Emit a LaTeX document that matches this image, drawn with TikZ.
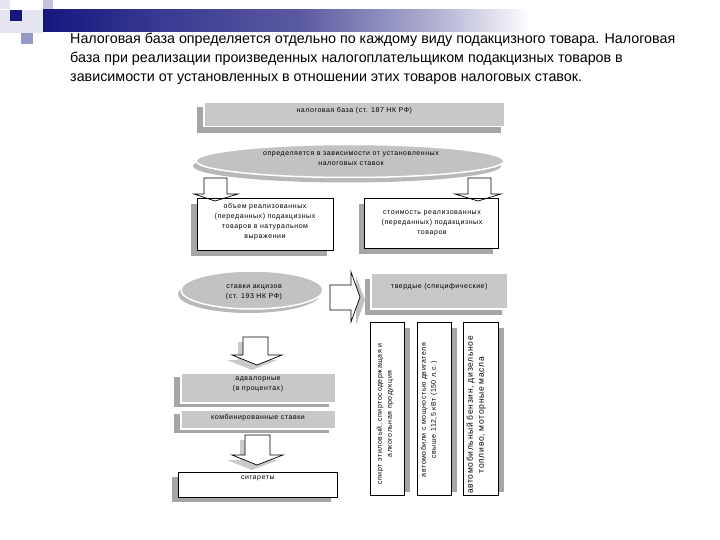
\documentclass[tikz,border=0pt]{standalone}
\usepackage{fontspec}
\setmainfont{Liberation Sans}
\newfontfamily\dfont[LetterSpace=8]{Liberation Sans}
\usetikzlibrary{shapes.geometric}
\definecolor{navy}{HTML}{16167F}
\definecolor{navymid}{HTML}{5A5AA0}
\definecolor{navylight}{HTML}{B4B4D4}
\definecolor{lavA}{HTML}{E6E6F2}
\definecolor{lavB}{HTML}{C4C4E0}
\definecolor{lavC}{HTML}{9898C6}
\definecolor{boxgray}{HTML}{C8C8C8}
\definecolor{shad}{HTML}{A6A6A6}
\definecolor{ellgray}{HTML}{C2C2C2}
\tikzset{
  title/.style={anchor=base west, inner sep=0pt, font=\fontsize{14.3}{17}\selectfont},
  dtext/.style={inner sep=0pt, align=center, font=\dfont\fontsize{7}{10}\selectfont},
  graybox/.style={fill=boxgray, draw=white, line width=1.5pt},
  whitebox/.style={fill=white, draw=black, line width=0.7pt},
  shadowfill/.style={fill=shad},
  blockarrow/.style={draw=black, line width=0.7pt, line join=miter},
}
\begin{document}
\begin{tikzpicture}[x=1pt,y=-1pt]
\useasboundingbox (0,0) rectangle (720,540);
\fill[white] (0,0) rectangle (720,540);
% top-left decoration
\fill[lavA] (0,0) rectangle (10,9);
\fill[lavA] (0,10) rectangle (43,33);
\fill[lavB] (43,0) rectangle (53,12);
\fill[navy] (10,10) rectangle (22,21);
\fill[lavC] (21,33) rectangle (33,44);
% banner
\shade[left color=navy, right color=navy!85!white] (43,10) rectangle (160,32);
\shade[left color=navy!85!white, right color=navymid] (160,10) rectangle (300,32);
\shade[left color=navymid, right color=navylight] (300,10) rectangle (440,32);
\shade[left color=navylight, right color=white] (440,10) rectangle (530,32);
% title
\node[title] (t1) at (70,44) {Налоговая база определяется отдельно по каждому виду подакцизного товара. Налоговая};
\node[title] (t2) at (70,63) {база при реализации произведенных налогоплательщиком подакцизных товаров в};
\node[title] (t3) at (70,82) {зависимости от установленных в отношении этих товаров налоговых ставок.};

% box: налоговая база
\fill[shadowfill] (197,107) rectangle (501,133);
\node[graybox, minimum width=301pt, minimum height=24pt, anchor=north west] (nb) at (203,102) {};
\node[dtext, anchor=north] (nbt) at ([yshift=-5pt]nb.north) {налоговая база (ст. 187 НК РФ)};

% ellipse 1
\fill[fill=shad!80!white] (347,166) ellipse [x radius=154, y radius=16.5];
\node[ellipse, fill=ellgray, draw=white, line width=1.5pt, minimum width=308pt, minimum height=33pt, inner sep=0pt] (e1) at (350,161) {};
\node[dtext] (e1t) at (351,159) {определяется в зависимости от установленных\\налоговых ставок};

% row 2 boxes
\fill[shadowfill] (191,204) rectangle (327,256);
\node[whitebox, minimum width=136pt, minimum height=52pt, anchor=north west] (bl) at (197,198) {};
\node[dtext] (blt) at (265,222) {объем реализованных\\(переданных) подакцизных\\товаров в натуральном\\выражении};
\fill[shadowfill] (359,204) rectangle (493,254);
\node[whitebox, minimum width=134pt, minimum height=50pt, anchor=north west] (br) at (364,198) {};
\node[dtext] (brt) at (432,223) {стоимость реализованных\\(переданных) подакцизных\\товаров};

% arrows to row 2
\draw[blockarrow] (204,178) -- (204,194) -- (194,194) -- (215,201) -- (238,194) -- (227,194) -- (227,178) -- cycle;
\draw[blockarrow] (468,178) -- (468,194) -- (455,194) -- (478,201) -- (501,194) -- (491,194) -- (491,178) -- cycle;

% ellipse 2
\fill[fill=shad!80!white] (249,294) ellipse [x radius=71, y radius=19];
\node[ellipse, fill=ellgray, draw=white, line width=1.5pt, minimum width=142pt, minimum height=38pt, inner sep=0pt] (e2) at (252,290) {};
\node[dtext] (e2t) at (254,292) {ставки акцизов\\(ст. 193 НК РФ)};

% big right arrow
\fill[shad!70!white] (356,276) -- (365,300) -- (356,325) -- cycle;
\filldraw[blockarrow, fill=white] (330,285) -- (351,285) -- (351,272) -- (360,297) -- (351,322) -- (351,310) -- (330,310) -- cycle;

% твердые box
\fill[shadowfill] (365,279) rectangle (502,315);
\node[graybox, minimum width=137pt, minimum height=36pt, anchor=north west] (tv) at (370,272) {};
\node[dtext, anchor=north] (tvt) at ([yshift=-11pt]tv.north) {твердые (специфические)};

% three vertical boxes
\fill[shadowfill] (376,328) rectangle (410,492);
\node[whitebox, minimum width=34pt, minimum height=173pt, anchor=north west] (v1) at (370,322) {};
\node[dtext, rotate=90] (v1t) at (385,414) {спирт этиловый, спиртосодержащая и\\алкогольная продукция};
\fill[shadowfill] (423,328) rectangle (457,492);
\node[whitebox, minimum width=34pt, minimum height=173pt, anchor=north west] (v2) at (417,322) {};
\node[dtext, rotate=90] (v2t) at (429,410) {автомобили с мощностью двигателя\\свыше 112,5 кВт (150 л.с.)};
\fill[shadowfill] (469,328) rectangle (504,492);
\node[whitebox, minimum width=35pt, minimum height=173pt, anchor=north west] (v3) at (463,322) {};
\node[dtext, rotate=90, font=\dfont\fontsize{8.5}{11}\selectfont] (v3t) at (476,415) {автомобильный бензин, дизельное\\топливо, моторные масла};

% arrow 1 (left column)
\fill[shad!60!white] (238,342) -- (263,342) -- (263,360) -- (277,360) -- (252,370) -- (227,360) -- (238,360) -- cycle;
\filldraw[blockarrow, fill=white] (243,337) -- (268,337) -- (268,355) -- (282,355) -- (257,365) -- (232,355) -- (243,355) -- cycle;

% адвалорные / комбинированные
\fill[shadowfill] (174,377) rectangle (329,407);
\node[graybox, minimum width=155pt, minimum height=30pt, anchor=north west] (ad) at (180,372) {};
\node[dtext] (adt) at (258,384) {адвалорные\\(в процентах)};
\fill[shadowfill] (174,414) rectangle (329,433);
\node[graybox, minimum width=155pt, minimum height=19pt, anchor=north west] (kb) at (180,409) {};
\node[dtext] (kbt) at (258,417.5) {комбинированные ставки};

% arrow 2
\fill[shad!60!white] (240,440) -- (265,440) -- (265,460) -- (278,460) -- (252,470) -- (227,460) -- (240,460) -- cycle;
\filldraw[blockarrow, fill=white] (245,435) -- (270,435) -- (270,455) -- (283,455) -- (257,465) -- (232,455) -- (245,455) -- cycle;

% сигареты
\fill[shadowfill] (172,477) rectangle (331,502);
\node[whitebox, minimum width=159pt, minimum height=25pt, anchor=north west] (sg) at (178,472) {};
\node[dtext, anchor=north] (sgt) at ([yshift=-4pt]sg.north) {сигареты};
\end{tikzpicture}
\end{document}
